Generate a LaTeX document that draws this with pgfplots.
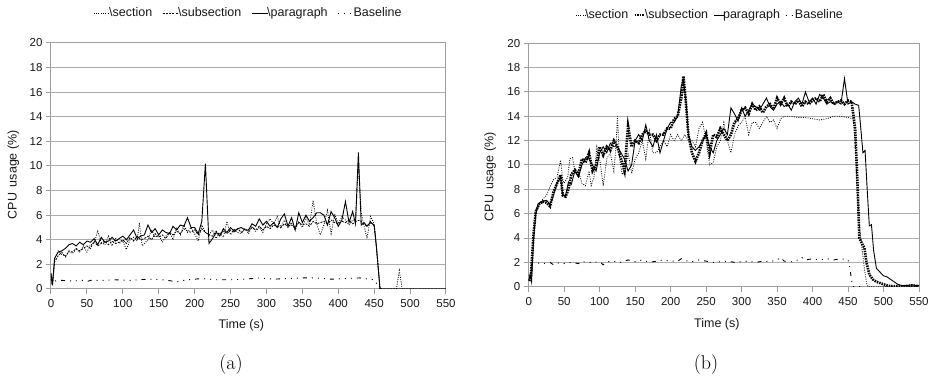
\documentclass[border=0pt]{standalone}
\usepackage{fontspec}
\usepackage{pgfplots}
\pgfplotsset{compat=1.18}
\newfontfamily\lsans{Liberation Sans}
\pgfplotsset{
  cpu/.style={
    scale only axis,
    xmin=0, xmax=550, ymin=0, ymax=20,
    xtick={0,50,...,550}, ytick={0,2,...,20},
    ymajorgrids,
    grid style={black!32, line width=1pt},
    axis line style={black!38, line width=1pt},
    major tick style={black!38, line width=1pt},
    tick align=outside, major tick length=5pt,
    tick pos=left,
    /pgf/number format/assume math mode=true,
    ticklabel style={font=\lsans\fontsize{11.5}{13}\selectfont, text=black!90},
    xticklabel style={yshift=-2pt},
    label style={font=\lsans\fontsize{12.5}{14}\selectfont, text=black!90},
    xlabel={Time (s)},
    ylabel={CPU\, usage (\%)},
    legend columns=4,
    legend style={draw=none, fill=none, font=\lsans\fontsize{12.5}{15}\selectfont,
      anchor=center, /tikz/every odd column/.append style={column sep=-3pt},
      /tikz/every even column/.append style={column sep=8pt},
      inner sep=0pt, text=black!90},
    legend image code/.code={\draw[#1] (0pt,0pt) -- (16pt,0pt);},
  },
  sec/.style={black, line width=0.8pt, dash pattern=on 0.9pt off 1.4pt},
  subA/.style={black, line width=0.8pt, dash pattern=on 2pt off 1.2pt},
  subB/.style={black, line width=2.6pt, dash pattern=on 1.5pt off 1pt},
  para/.style={black, line width=0.9pt},
  base/.style={black, line width=0.9pt, dash pattern=on 1pt off 5pt on 1pt off 5pt on 1pt off 5pt on 4pt off 5pt},
}
\begin{document}
\begin{tikzpicture}
\useasboundingbox (0,0) rectangle (938pt,-379pt);
% ---------------- (a)
\begin{axis}[cpu, width=395pt, height=246pt,
  at={(51pt,-289pt)}, anchor=south west,
  xlabel style={at={(axis description cs:0.482,0)}, anchor=center, yshift=-36pt},
  ylabel style={at={(axis description cs:-0.095,0.465)}, anchor=center},
  legend style={at={(axis description cs:0.5,1.122)}},
]
\addplot[sec] coordinates {(0,1.0) (2,0.3) (5,2.4) (10,3.1) (15,2.8) (20,2.7) (25,3.0) (30,2.9) (35,3.2) (40,3.0) (45,3.5) (50,3.0) (55,3.6) (60,3.7) (65,4.7) (70,3.8) (75,3.6) (80,4.3) (85,3.5) (90,4.1) (95,3.7) (100,3.9) (105,3.2) (110,4.0) (115,4.2) (120,3.9) (123,5.4) (127,3.5) (130,3.7) (135,4.0) (140,4.8) (145,4.2) (150,4.4) (155,3.8) (160,4.3) (165,4.6) (170,4.0) (175,5.0) (180,4.4) (185,5.2) (190,4.6) (195,5.0) (200,4.5) (205,3.9) (210,5.2) (215,4.6) (220,4.4) (225,4.8) (230,4.1) (235,4.6) (240,4.2) (245,5.5) (250,4.4) (255,4.9) (260,4.6) (265,4.5) (270,4.9) (275,4.5) (280,5.1) (285,4.7) (290,5.0) (295,4.6) (300,5.3) (305,5.7) (310,5.3) (315,5.9) (320,5.0) (325,5.6) (330,5.0) (335,5.4) (340,4.8) (345,5.5) (350,5.0) (355,5.8) (360,5.2) (365,7.2) (370,5.3) (375,4.4) (380,5.2) (385,6.4) (390,4.5) (395,6.1) (400,5.3) (405,5.9) (410,5.6) (415,5.2) (420,5.6) (424,5.6) (428,10.2) (432,6.2) (436,5.1) (440,4.1) (445,5.9) (450,5.3) (453,3.5) (458,0.1) (460,0) (481,0) (485,1.5) (489,0) (550,0)};
\addlegendentry{\textbackslash section}
\addplot[subA] coordinates {(0,0.8) (2,0.3) (5,2.2) (10,2.7) (15,3.0) (20,2.6) (25,3.1) (30,3.0) (35,3.3) (40,3.1) (45,3.3) (50,3.5) (55,3.3) (60,3.9) (65,3.5) (70,3.7) (75,3.9) (80,3.6) (85,3.9) (90,3.7) (95,3.8) (100,4.0) (105,3.7) (110,4.2) (115,3.9) (120,4.3) (125,4.0) (130,4.1) (135,4.3) (140,4.0) (145,4.5) (150,4.2) (155,4.4) (160,4.1) (165,4.6) (170,4.4) (175,4.7) (180,4.5) (185,4.9) (190,4.7) (195,4.6) (200,4.8) (205,4.4) (210,4.9) (215,4.6) (220,4.4) (225,4.3) (230,4.7) (235,4.4) (240,4.7) (245,4.5) (250,4.8) (255,4.6) (260,4.9) (265,4.6) (270,4.9) (275,4.7) (280,5.0) (285,4.8) (290,5.1) (295,4.8) (300,5.1) (305,4.9) (310,5.2) (315,5.1) (320,5.0) (325,5.3) (330,5.1) (335,5.2) (340,5.0) (345,5.4) (350,5.2) (355,5.3) (360,5.1) (365,5.5) (370,5.3) (375,5.4) (380,5.5) (385,5.3) (390,5.6) (395,5.4) (400,5.3) (405,5.5) (410,5.4) (415,5.6) (420,5.3) (425,5.5) (430,5.6) (435,5.3) (440,5.1) (445,5.5) (450,5.1) (453,3.5) (458,0.1) (460,0) (550,0)};
\addlegendentry{\textbackslash subsection}
\addplot[para] coordinates {(0,1.3) (2,0.3) (5,2.5) (10,3.0) (15,3.1) (20,3.3) (25,3.6) (30,3.7) (35,3.5) (40,3.8) (45,3.6) (50,3.9) (55,3.8) (60,4.1) (65,3.6) (70,4.2) (75,3.8) (80,3.9) (85,4.2) (90,3.9) (95,4.1) (100,4.3) (105,4.0) (110,4.4) (115,4.8) (120,4.1) (125,4.3) (130,4.4) (135,5.2) (140,4.6) (145,4.9) (150,4.4) (155,4.8) (160,4.6) (165,4.5) (170,5.1) (175,4.8) (180,5.2) (185,5.1) (190,5.8) (195,5.0) (200,5.0) (205,4.5) (210,5.5) (215,10.2) (220,3.7) (225,4.1) (230,4.6) (235,4.3) (240,4.9) (245,4.6) (250,5.0) (255,4.7) (260,4.9) (265,5.0) (270,4.8) (275,4.8) (280,5.3) (285,5.1) (290,5.7) (295,5.2) (300,5.5) (305,5.1) (310,5.4) (315,5.0) (320,5.7) (325,6.1) (330,5.1) (335,5.8) (340,4.8) (345,6.2) (350,5.4) (355,6.0) (360,5.5) (365,5.8) (370,6.2) (375,6.2) (380,6.0) (385,5.2) (390,6.3) (395,5.8) (400,5.1) (405,5.6) (410,7.1) (415,5.4) (420,6.3) (424,5.3) (428,11.1) (432,5.2) (436,5.4) (440,5.1) (445,5.4) (450,5.2) (453,3.5) (458,0.1) (460,0) (550,0)};
\addlegendentry{\textbackslash paragraph}
\addplot[base] coordinates {(0,1.2) (2,0.5) (5,0.65) (15,0.7) (30,0.65) (45,0.7) (50,0.6) (55,0.7) (70,0.7) (90,0.75) (110,0.7) (135,0.8) (155,0.75) (175,0.6) (190,0.75) (210,0.85) (230,0.75) (250,0.75) (270,0.8) (290,0.9) (310,0.8) (330,0.85) (350,0.9) (370,0.9) (390,0.8) (410,0.85) (430,0.9) (450,0.75) (455,0.3) (458,0)};
\addlegendentry{Baseline}
\end{axis}
% ---------------- (b)
\begin{axis}[cpu, width=390.3pt, height=243.4pt,
  at={(528.7pt,-286.7pt)}, anchor=south west,
  xlabel style={at={(axis description cs:0.482,0)}, anchor=center, yshift=-38pt},
  ylabel style={at={(axis description cs:-0.099,0.452)}, anchor=center},
  legend style={at={(axis description cs:0.465,1.116)}, font=\lsans\fontsize{12.5}{15}\selectfont,
    /tikz/every even column/.append style={column sep=3pt}},
  legend image code/.code={\draw[#1] (0pt,0pt) -- (10pt,0pt);},
]
\addplot[sec] coordinates {(0,0.5) (3,1.0) (7,4.0) (10,6.0) (15,6.8) (20,7.2) (25,7.5) (30,8.2) (35,8.8) (40,9.0) (45,10.4) (48,8.8) (50,8.5) (55,9.0) (58,10.5) (62,10.6) (65,9.5) (70,9.5) (75,8.5) (80,8.3) (85,9.5) (88,8.3) (92,9.0) (96,11.5) (100,10.5) (105,8.3) (110,10.5) (115,11.0) (120,9.5) (123,11.5) (125,14.0) (128,10.5) (132,9.2) (136,9.5) (140,11.0) (145,9.3) (150,10.5) (155,11.0) (160,12.0) (165,10.5) (170,12.8) (175,11.0) (180,11.0) (185,11.5) (190,12.0) (195,11.5) (200,12.5) (205,12.0) (210,12.5) (215,12.0) (220,12.5) (225,12.0) (230,12.0) (235,11.5) (240,13.0) (245,13.5) (250,12.0) (255,10.0) (260,10.2) (265,11.5) (270,12.0) (275,13.5) (280,12.0) (285,11.0) (290,12.5) (295,13.2) (300,13.5) (305,14.0) (310,12.5) (315,13.5) (320,13.5) (325,13.0) (330,13.5) (335,14.0) (340,13.5) (345,13.7) (350,13.0) (355,13.8) (360,14.0) (365,14.0) (370,14.0) (380,13.9) (390,13.9) (400,13.8) (410,13.7) (420,13.8) (430,14.0) (440,14.0) (450,13.9) (457,13.8) (460,12.0) (463,8.0) (466,5.0) (470,3.0) (473,1.5) (476,0.3) (478,0.0) (550,0.0)};
\addlegendentry{\textbackslash section}
\addplot[subB] coordinates {(0,0.5) (3,0.8) (7,4.5) (10,6.2) (15,6.8) (20,7.0) (25,6.9) (30,6.6) (35,7.8) (40,8.5) (45,9.2) (48,7.5) (52,7.4) (56,8.0) (60,9.2) (65,9.6) (70,9.2) (75,10.5) (80,10.2) (85,11.0) (90,9.5) (95,10.0) (100,11.5) (105,10.8) (110,11.5) (115,11.2) (120,12.0) (125,11.5) (130,10.5) (135,9.5) (140,13.2) (145,11.5) (150,12.0) (155,11.8) (160,12.5) (165,12.8) (170,12.5) (175,12.5) (180,12.0) (185,12.5) (190,12.5) (195,13.0) (200,13.0) (205,13.8) (210,14.0) (215,15.5) (218,17.3) (221,15.5) (225,12.5) (230,11.0) (235,10.3) (240,11.0) (245,12.0) (250,12.6) (255,11.0) (260,12.5) (265,12.3) (270,13.0) (275,12.5) (280,12.0) (285,12.5) (290,13.5) (295,13.8) (300,14.5) (305,14.7) (310,14.2) (315,15.0) (320,14.5) (325,14.8) (330,14.3) (335,14.8) (340,15.0) (345,14.6) (350,15.5) (355,15.0) (360,15.5) (365,14.8) (370,15.2) (375,15.0) (380,15.3) (385,14.8) (390,15.2) (395,15.0) (400,15.3) (405,15.5) (410,15.2) (415,15.8) (420,15.2) (425,15.5) (430,15.0) (435,15.2) (440,15.3) (445,15.0) (450,15.3) (455,15.2) (460,13.0) (463,9.0) (466,4.0) (470,3.5) (473,3.2) (476,2.0) (480,1.0) (485,0.6) (490,0.4) (495,0.3) (500,0.2) (505,0.1) (510,0.05) (520,0.05) (530,0.05) (540,0.1) (550,0.05)};
\addlegendentry{\textbackslash subsection}
\addplot[para] coordinates {(0,0.5) (2,1.0) (4,0.4) (7,4.0) (10,6.0) (13,6.8) (18,7.0) (25,7.1) (30,6.8) (35,7.5) (40,8.5) (45,9.0) (48,7.5) (52,7.5) (56,8.6) (60,8.4) (65,9.5) (70,9.0) (75,10.0) (80,10.6) (85,10.5) (90,10.0) (95,9.5) (100,11.0) (105,11.5) (110,11.0) (115,11.8) (120,11.5) (125,11.5) (130,11.0) (135,10.5) (140,9.5) (145,10.0) (150,12.0) (155,12.5) (160,12.0) (165,13.3) (170,12.0) (175,11.5) (180,12.5) (185,11.0) (190,12.0) (195,13.0) (200,13.5) (205,13.5) (210,14.0) (215,16.5) (218,17.0) (222,15.0) (225,12.5) (230,11.5) (235,11.2) (240,11.5) (245,12.0) (250,12.5) (255,11.5) (260,11.0) (265,12.0) (270,12.5) (275,13.0) (280,12.5) (285,14.7) (290,14.2) (295,13.6) (300,14.7) (305,14.0) (310,14.5) (315,15.0) (320,14.8) (325,14.5) (330,15.0) (335,15.5) (340,14.8) (345,14.5) (350,15.0) (355,15.2) (360,14.8) (365,15.0) (370,14.5) (375,15.2) (380,15.5) (385,15.0) (390,16.0) (395,15.2) (400,15.5) (405,15.0) (410,15.8) (415,15.5) (420,15.0) (425,15.2) (430,15.0) (435,15.2) (440,15.0) (445,17.1) (450,15.0) (455,15.2) (460,15.0) (465,14.9) (468,13.0) (471,11.0) (474,11.2) (477,8.0) (480,5.0) (483,5.1) (486,3.0) (490,1.5) (495,1.2) (500,0.9) (505,0.8) (510,0.6) (515,0.4) (520,0.2) (525,0.1) (530,0.1) (535,0.1) (540,0.15) (545,0.1) (550,0.1)};
\addlegendentry{paragraph}
\addplot[base] coordinates {(0,1.0) (3,0.4) (5,2.0) (10,1.95) (20,1.9) (30,2.0) (35,1.8) (40,1.95) (50,1.9) (60,2.0) (70,1.9) (75,2.1) (80,2.0) (90,2.0) (100,2.05) (105,1.8) (110,2.05) (120,2.1) (130,2.0) (140,2.2) (150,2.05) (160,2.2) (170,2.0) (180,2.1) (190,2.2) (200,2.1) (210,2.1) (215,2.3) (220,2.15) (230,2.05) (240,2.2) (250,2.1) (260,2.0) (270,2.05) (280,2.1) (290,2.0) (300,2.05) (310,2.1) (320,2.0) (330,2.1) (340,2.05) (350,2.2) (355,2.4) (360,2.1) (370,2.05) (380,2.2) (385,2.4) (390,2.2) (400,2.3) (410,2.2) (420,2.3) (430,2.2) (440,2.3) (450,2.2) (452,1.8) (455,0.5) (457,0.0) (470,0.0)};
\addlegendentry{Baseline}
\end{axis}
\node[font=\fontsize{20}{22}\selectfont] at (231pt,-365pt) {(a)};
\node[font=\fontsize{20}{22}\selectfont] at (706pt,-365pt) {(b)};
\end{tikzpicture}
\end{document}
